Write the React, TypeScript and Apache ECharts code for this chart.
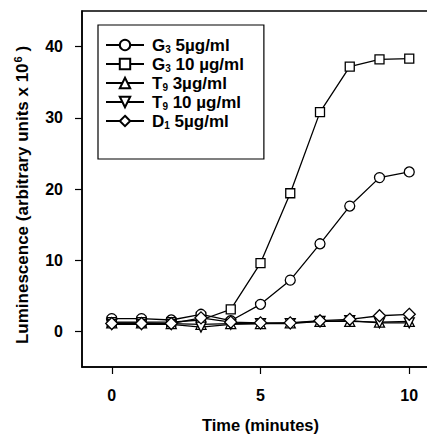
import React, { useEffect, useRef } from "react";
import * as echarts from "echarts";

const times = [0, 1, 2, 3, 4, 5, 6, 7, 8, 9, 10];
const g3_5 = [1.8, 1.8, 1.6, 2.4, 1.5, 3.8, 7.2, 12.3, 17.6, 21.6, 22.4];
const g3_10 = [1.3, 1.3, 1.3, 1.6, 3.1, 9.6, 19.4, 30.8, 37.2, 38.2, 38.3];
const t9_3 = [1.2, 1.2, 1.1, 1.0, 1.1, 1.1, 1.2, 1.4, 1.4, 1.3, 1.4];
const t9_10 = [1.0, 1.0, 1.0, 0.6, 1.0, 1.1, 1.1, 1.4, 1.5, 1.2, 1.2];
const d1_5 = [1.1, 1.1, 1.1, 1.9, 1.3, 1.2, 1.2, 1.5, 1.7, 2.2, 2.4];

const yTicks = [0, 10, 20, 30, 40];
const xTicks = [0, 5, 10];

const seriesDefs = [
  { name: "g3_5", label: "{f|G}{s|3}{b| 5µg/ml}", data: g3_5, symbol: "circle", size: 10, rotate: 0 },
  { name: "g3_10", label: "{f|G}{s|3}{b| 10 µg/ml}", data: g3_10, symbol: "rect", size: 9, rotate: 0 },
  { name: "t9_3", label: "{f|T}{s|9}{b| 3µg/ml}", data: t9_3, symbol: "triangle", size: 10, rotate: 0 },
  { name: "t9_10", label: "{f|T}{s|9}{b| 10 µg/ml}", data: t9_10, symbol: "triangle", size: 10, rotate: 180 },
  { name: "d1_5", label: "{f|D}{s|1}{b| 5µg/ml}", data: d1_5, symbol: "diamond", size: 12, rotate: 0 },
];

const FONT = "'Liberation Sans', Arial, sans-serif";

export default function App() {
  const ref = useRef<HTMLDivElement>(null);
  useEffect(() => {
    document.body.style.margin = "0";
    const chart = echarts.init(ref.current!, undefined, { renderer: "svg" });
    const labelMap: Record<string, string> = {};
    seriesDefs.forEach((s) => (labelMap[s.name] = s.label));
    const txt = { fontSize: 17, lineHeight: 17, fontWeight: "bold", color: "#000", fontFamily: FONT };
    chart.setOption({
      animation: false,
      backgroundColor: "#fff",
      grid: {
        left: 82,
        top: 11,
        right: -12,
        bottom: 67,
        show: true,
        borderColor: "#000",
        borderWidth: 1.5,
        containLabel: false,
        outerBoundsMode: "none",
      },
      legend: {
        orient: "vertical",
        left: 98,
        top: 25,
        padding: [11, 20, 29, 7],
        borderColor: "#000",
        borderWidth: 1.2,
        itemWidth: 38,
        itemHeight: 13,
        itemGap: 1,
        data: seriesDefs.map((s) => s.name),
        formatter: (n: string) => labelMap[n],
        textStyle: {
          fontFamily: FONT,
          rich: {
            f: { ...txt, padding: [0, 0, 0, 3] },
            b: { ...txt },
            s: { fontSize: 10, lineHeight: 9, fontWeight: "bold", color: "#000", fontFamily: FONT, padding: [8, 0, 0, 0] },
          },
        },
      },
      xAxis: {
        type: "value",
        min: -1,
        max: 11,
        splitLine: { show: false },
        axisLine: { show: true, onZero: false, lineStyle: { color: "#000", width: 1.5 } },
        axisTick: { show: true, inside: false, length: 7, customValues: xTicks, lineStyle: { color: "#000", width: 1.2 } },
        axisLabel: {
          customValues: xTicks,
          margin: 20,
          color: "#000",
          fontSize: 16,
          fontWeight: "bold",
          fontFamily: FONT,
        },
        name: "Time (minutes)",
        nameLocation: "middle",
        nameGap: 49,
        nameTextStyle: { color: "#000", fontSize: 16.5, fontWeight: "bold", fontFamily: FONT },
      },
      yAxis: {
        type: "value",
        min: -5,
        max: 45,
        splitLine: { show: false },
        axisLine: { show: true, onZero: false, lineStyle: { color: "#000", width: 1.5 } },
        axisTick: { show: true, inside: false, length: 7, customValues: yTicks, lineStyle: { color: "#000", width: 1.2 } },
        axisLabel: {
          customValues: yTicks,
          margin: 19,
          color: "#000",
          fontSize: 16,
          fontWeight: "bold",
          fontFamily: FONT,
        },
        name: "{a|Luminescence (arbitrary units x 10}{p|6}{a| )}",
        nameLocation: "middle",
        nameRotate: 90,
        nameGap: 50,
        nameTextStyle: {
          padding: [0, 12, 0, 0],
          rich: {
            a: { fontSize: 17, fontWeight: "bold", color: "#000", fontFamily: FONT },
            p: { fontSize: 11, fontWeight: "bold", color: "#000", fontFamily: FONT, padding: [0, 0, 9, 1] },
          },
        },
      },
      series: seriesDefs.map((s) => ({
        name: s.name,
        type: "line",
        data: times.map((t, i) => [t, s.data[i]]),
        symbol: s.symbol,
        symbolSize: s.size,
        symbolRotate: s.rotate,
        showAllSymbol: true,
        lineStyle: { color: "#000", width: 1.3 },
        itemStyle: { color: "#fff", borderColor: "#000", borderWidth: 1.3 },
        emphasis: { disabled: true },
      })),
    });
    return () => chart.dispose();
  }, []);
  return (
    <div
      ref={ref}
      style={{ position: "absolute", left: 0, top: 0, width: 427, height: 434 }}
    />
  );
}
